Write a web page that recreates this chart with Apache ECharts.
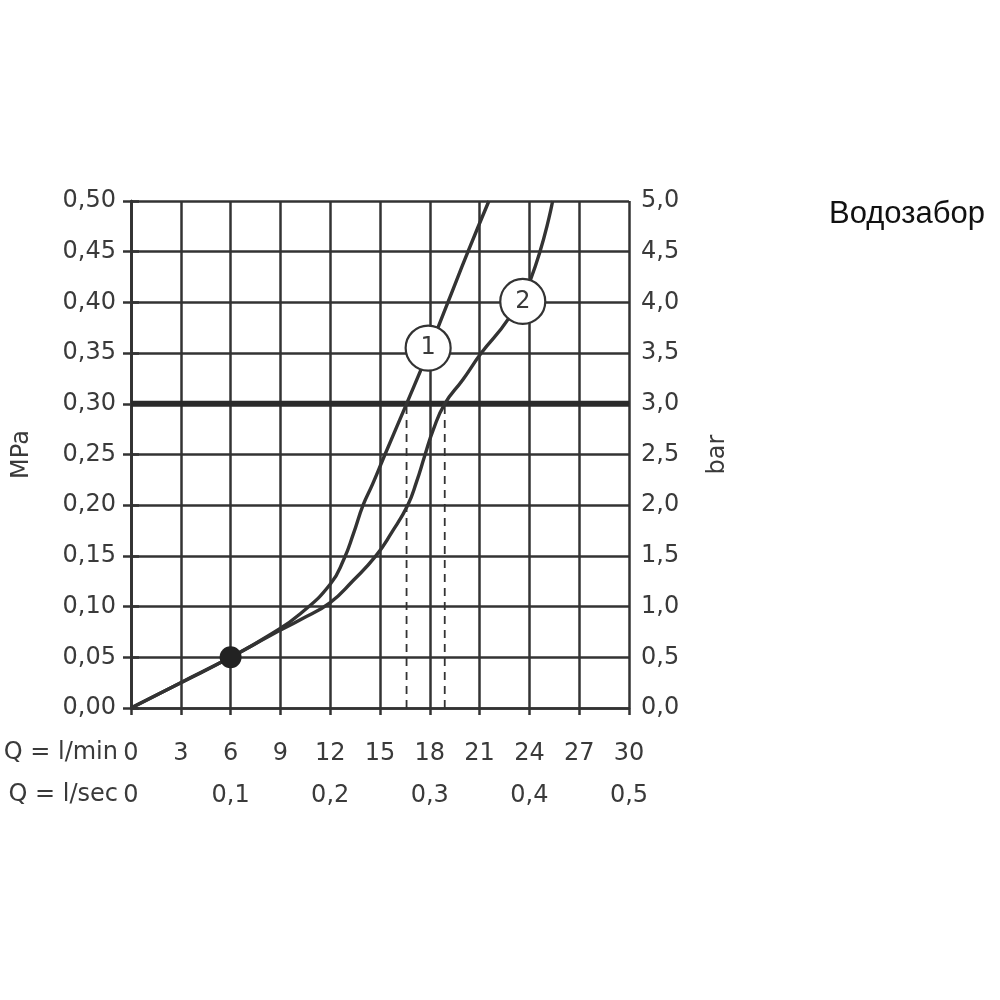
<!DOCTYPE html>
<html>
<head>
<meta charset="utf-8">
<script src="https://cdn.jsdelivr.net/npm/echarts@6/dist/echarts.min.js"></script>
<style>
html,body{margin:0;padding:0;background:#fff;}
#chart{width:1000px;height:1000px;}
</style>
</head>
<body>
<div id="chart"></div>
<script>
const chartTitle = 'Водозабор';
const leftAxisName = 'MPa';
const rightAxisName = 'bar';
const flowRowLabel = 'Q = l/min';
const secRowLabel = 'Q = l/sec';

const curve1Flow = [0, 3, 6, 8.45, 10.2, 12.0, 12.83, 13.4, 13.98, 14.56, 15.3, 16.6, 17.88, 19.09, 20.3, 21.56];
const curve1Pressure = [0, 0.025, 0.05, 0.073, 0.093, 0.122, 0.147, 0.172, 0.20, 0.221, 0.25, 0.30, 0.35, 0.40, 0.45, 0.50];

const curve2Flow = [0, 3, 6, 8.45, 10.2, 12.0, 13.4, 14.75, 15.7, 16.67, 17.2, 17.7, 18.2, 18.9, 20.0, 21.1, 22.7, 24.1, 25.4];
const curve2Pressure = [0, 0.025, 0.05, 0.072, 0.087, 0.104, 0.126, 0.15, 0.173, 0.20, 0.223, 0.249, 0.274, 0.30, 0.324, 0.35, 0.383, 0.424, 0.50];

const operatingPressure = 0.30;
const operatingFlows = [16.6, 18.9];
const markerPoint = [6, 0.05];
const curveLabels = ['1', '2'];
const curveLabelFlow = [17.9, 23.6];
const curveLabelPressure = [0.355, 0.401];

const FONT = '"DejaVu Sans", sans-serif';
const TXT = '#3a3a3a';
const LINE = '#333333';

function pairs(xs, ys) { return xs.map((x, i) => [x, ys[i]]); }
const comma = (v, d) => v.toFixed(d).replace('.', ',');

const chart = echarts.init(document.getElementById('chart'));
const option = {
  animation: false,
  backgroundColor: '#ffffff',
  title: {
    text: chartTitle, left: 824, top: 194,
    textStyle: { fontFamily: '"Liberation Sans", Arial, sans-serif', fontSize: 31, fontWeight: 'normal', color: '#111' }
  },
  grid: { left: 131, right: 371, top: 201, bottom: 292 },
  xAxis: [
    {
      type: 'value', min: 0, max: 30, interval: 3, position: 'bottom',
      axisLine: { show: true, lineStyle: { color: LINE, width: 2.5 } },
      axisTick: { show: true, length: 7, lineStyle: { color: LINE, width: 2.5 } },
      splitLine: { show: true, lineStyle: { color: LINE, width: 2.5 } },
      axisLabel: { margin: 34, color: TXT, fontSize: 24, fontFamily: FONT, formatter: v => String(v) }
    },
    {
      type: 'value', min: 0, max: 0.5, interval: 0.1, position: 'bottom',
      axisLine: { show: false }, axisTick: { show: false }, splitLine: { show: false },
      axisLabel: { margin: 76, color: TXT, fontSize: 24, fontFamily: FONT,
        formatter: v => (Math.abs(v) < 1e-9 ? '0' : comma(v, 1)) }
    }
  ],
  yAxis: [
    {
      type: 'value', min: 0, max: 0.5, interval: 0.05, position: 'left',
      name: leftAxisName, nameLocation: 'middle', nameGap: 97, nameRotate: 90,
      nameTextStyle: { color: TXT, fontSize: 24, fontFamily: FONT },
      axisLine: { show: true, lineStyle: { color: LINE, width: 2.5 } },
      axisTick: { show: true, length: 8, lineStyle: { color: LINE, width: 2.5 } },
      splitLine: { show: true, lineStyle: { color: LINE, width: 2.5 } },
      axisLabel: { margin: 15, color: TXT, fontSize: 24, fontFamily: FONT, formatter: v => comma(v, 2) }
    },
    {
      type: 'value', min: 0, max: 5, interval: 0.5, position: 'right',
      name: rightAxisName, nameLocation: 'middle', nameGap: 77, nameRotate: 90,
      nameTextStyle: { color: TXT, fontSize: 24, fontFamily: FONT },
      axisLine: { show: true, lineStyle: { color: LINE, width: 2.5 } },
      axisTick: { show: true, length: 8, lineStyle: { color: LINE, width: 2.5 } },
      splitLine: { show: false },
      axisLabel: { margin: 12, color: TXT, fontSize: 24, fontFamily: FONT, formatter: v => comma(v, 1) }
    }
  ],
  graphic: [
    { type: 'text', x: 118, y: 753, style: { text: flowRowLabel, fill: TXT, font: '24px ' + FONT, align: 'right', verticalAlign: 'middle' } },
    { type: 'text', x: 118, y: 795, style: { text: secRowLabel, fill: TXT, font: '24px ' + FONT, align: 'right', verticalAlign: 'middle' } }
  ],
  series: [
    {
      type: 'line', name: 'ref', xAxisIndex: 0, yAxisIndex: 0, symbol: 'none', silent: true, z: 3,
      data: [[0, operatingPressure], [30, operatingPressure]],
      lineStyle: { color: '#2a2a2a', width: 6 }
    },
    ...operatingFlows.map(f => ({
      type: 'line', xAxisIndex: 0, yAxisIndex: 0, symbol: 'none', silent: true, z: 4,
      data: [[f, 0], [f, operatingPressure]],
      lineStyle: { color: '#333', width: 1.8, type: [8, 6] }
    })),
    {
      type: 'line', name: 'c1', xAxisIndex: 0, yAxisIndex: 0, symbol: 'none', smooth: 0.5, z: 5,
      data: pairs(curve1Flow, curve1Pressure), lineStyle: { color: '#333', width: 3.4 }
    },
    {
      type: 'line', name: 'c2', xAxisIndex: 0, yAxisIndex: 0, symbol: 'none', smooth: 0.5, z: 5,
      data: pairs(curve2Flow, curve2Pressure), lineStyle: { color: '#333', width: 3.4 }
    },
    {
      type: 'scatter', xAxisIndex: 0, yAxisIndex: 0, z: 7, symbolSize: 22,
      data: [markerPoint], itemStyle: { color: '#222', opacity: 1 }
    },
    {
      type: 'scatter', xAxisIndex: 0, yAxisIndex: 0, z: 8, symbolSize: 45,
      data: curveLabels.map((t, i) => ({ value: [curveLabelFlow[i], curveLabelPressure[i]], name: t })),
      itemStyle: { color: '#fff', borderColor: '#333', borderWidth: 2.2, opacity: 1 },
      label: { show: true, position: 'inside', formatter: p => p.name, color: TXT, fontSize: 24, fontFamily: FONT }
    }
  ]
};
chart.setOption(option);
</script>
</body>
</html>
